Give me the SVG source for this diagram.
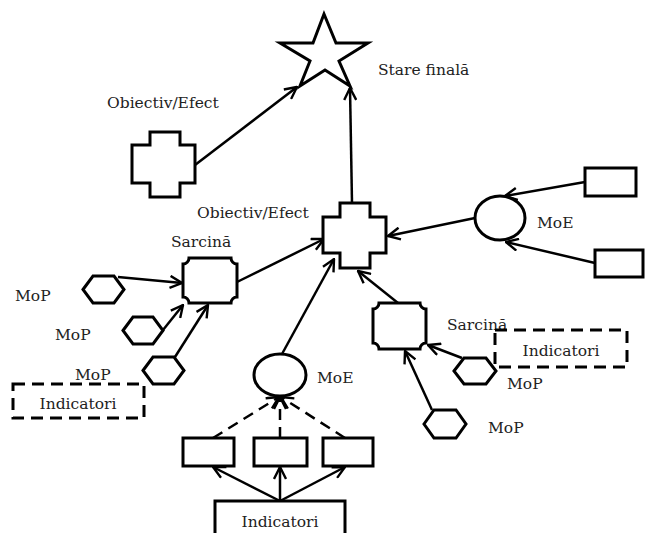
<svg xmlns="http://www.w3.org/2000/svg" width="646" height="533" viewBox="0 0 646 533">
<style>
.s{fill:#fff;stroke:#000;stroke-width:3;stroke-linejoin:miter}
.d{fill:#fff;stroke:#000;stroke-width:3;stroke-dasharray:12 7}
.l{fill:none;stroke:#000;stroke-width:2.5}
.ld{fill:none;stroke:#000;stroke-width:2.5;stroke-dasharray:11 7}
text{font-family:"DejaVu Serif","Liberation Serif",serif;font-size:15.5px;fill:#222}
</style>
<defs>
<marker id="a" viewBox="0 0 14 14" refX="13" refY="7" markerWidth="14" markerHeight="14" markerUnits="userSpaceOnUse" orient="auto">
<path d="M1,1 L13,7 L1,13" fill="none" stroke="#000" stroke-width="2.4"/>
</marker>
</defs>
<g id="connectors">
<line class="l" x1="195" y1="165" x2="297" y2="87" marker-end="url(#a)"/>
<line class="l" x1="352" y1="203" x2="350" y2="88" marker-end="url(#a)"/>
<line class="l" x1="475" y1="218" x2="388" y2="236" marker-end="url(#a)"/>
<line class="l" x1="585" y1="182" x2="505" y2="196" marker-end="url(#a)"/>
<line class="l" x1="595" y1="263" x2="506" y2="242" marker-end="url(#a)"/>
<line class="l" x1="237" y1="282" x2="324" y2="239" marker-end="url(#a)"/>
<line class="l" x1="282" y1="354" x2="334" y2="259" marker-end="url(#a)"/>
<line class="l" x1="398" y1="303" x2="358" y2="271" marker-end="url(#a)"/>
<line class="l" x1="118" y1="277" x2="182" y2="283" marker-end="url(#a)"/>
<line class="l" x1="163" y1="330" x2="183" y2="305" marker-end="url(#a)"/>
<line class="l" x1="175" y1="357" x2="208" y2="305" marker-end="url(#a)"/>
<line class="l" x1="462" y1="358" x2="428" y2="345" marker-end="url(#a)"/>
<line class="l" x1="432" y1="410" x2="405" y2="351" marker-end="url(#a)"/>
<line class="ld" x1="213" y1="438" x2="279" y2="397" marker-end="url(#a)"/>
<line class="ld" x1="280" y1="438" x2="280" y2="397" marker-end="url(#a)"/>
<line class="ld" x1="345" y1="438" x2="281" y2="397" marker-end="url(#a)"/>
<line class="l" x1="280" y1="501" x2="213" y2="467" marker-end="url(#a)"/>
<line class="l" x1="280" y1="501" x2="280" y2="467" marker-end="url(#a)"/>
<line class="l" x1="280" y1="501" x2="345" y2="467" marker-end="url(#a)"/>
</g>
<g id="stare-finala">
<polygon class="s" points="324,14 336,43 368,43 339,61 350,86 325,70 300,86 310,61 280,43 313,43"/>
<text x="378" y="75">Stare finală</text>
</g>
<g id="obiectiv1">
<polygon class="s" points="150,132 180,132 180,145 195,145 195,183 180,183 180,197 150,197 150,183 132,183 132,145 150,145"/>
<text x="107" y="108">Obiectiv/Efect</text>
</g>
<g id="obiectiv2">
<polygon class="s" points="340,203 370,203 370,217 386,217 386,253 370,253 370,268 340,268 340,253 323,253 323,217 340,217"/>
<text x="197" y="218">Obiectiv/Efect</text>
</g>
<g id="moe-right">
<ellipse class="s" cx="500" cy="218" rx="25" ry="22"/>
<text x="537" y="228">MoE</text>
</g>
<g id="rect-tr"><rect class="s" x="585" y="168" width="51" height="28"/></g>
<g id="rect-br"><rect class="s" x="595" y="250" width="48" height="27"/></g>
<g id="sarcina-left">
<path class="s" d="M189,258 L231,258 A6,6 0 0 0 237,264 L237,297 A6,6 0 0 0 231,303 L189,303 A6,6 0 0 0 183,297 L183,264 A6,6 0 0 0 189,258 Z"/>
<text x="171" y="247">Sarcină</text>
</g>
<g id="mop-l1">
<polygon class="s" points="83,289.5 93,276 114,276 124,289.5 114,303 93,303"/>
<text x="15" y="301">MoP</text>
</g>
<g id="mop-l2">
<polygon class="s" points="123,330.5 133,317 153,317 163,330.5 153,344 133,344"/>
<text x="55" y="340">MoP</text>
</g>
<g id="mop-l3">
<polygon class="s" points="143,370.5 153,357 174,357 184,370.5 174,384 153,384"/>
<text x="75" y="380">MoP</text>
</g>
<g id="indicatori-left">
<rect class="d" x="13" y="384" width="131" height="34"/>
<text x="78" y="409" text-anchor="middle">Indicatori</text>
</g>
<g id="moe-bottom">
<ellipse class="s" cx="280" cy="375" rx="26" ry="21"/>
<text x="317" y="383">MoE</text>
</g>
<g id="rect-b1"><rect class="s" x="183" y="438" width="51" height="28"/></g>
<g id="rect-b2"><rect class="s" x="254" y="438" width="53" height="28"/></g>
<g id="rect-b3"><rect class="s" x="323" y="438" width="50" height="28"/></g>
<g id="indicatori-bottom">
<rect class="s" x="215" y="501" width="130" height="40"/>
<text x="280" y="527" text-anchor="middle">Indicatori</text>
</g>
<g id="sarcina-right">
<path class="s" d="M379,303 L420,303 A6,6 0 0 0 426,309 L426,343 A6,6 0 0 0 420,349 L379,349 A6,6 0 0 0 373,343 L373,309 A6,6 0 0 0 379,303 Z"/>
<text x="447" y="330">Sarcină</text>
</g>
<g id="indicatori-right">
<rect class="d" x="495" y="330" width="132" height="37"/>
<text x="561" y="356" text-anchor="middle">Indicatori</text>
</g>
<g id="mop-r1">
<polygon class="s" points="454,371 464,358 486,358 496,371 486,384 464,384"/>
<text x="507" y="389">MoP</text>
</g>
<g id="mop-r2">
<polygon class="s" points="424,424 434,410 456,410 466,424 456,438 434,438"/>
<text x="488" y="433">MoP</text>
</g>
</svg>
